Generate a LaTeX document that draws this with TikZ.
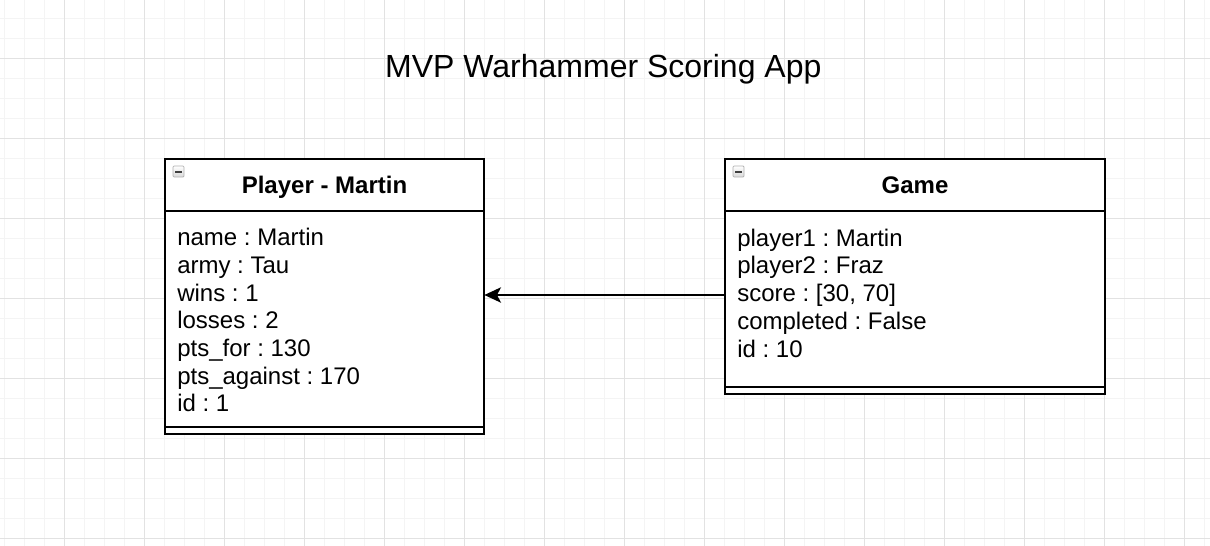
\documentclass[tikz,border=0pt]{standalone}
\usepackage{fontspec}
\setmainfont{Liberation Sans}
\usetikzlibrary{arrows.meta,calc}
\frenchspacing
\definecolor{gridminor}{HTML}{F4F4F4}
\definecolor{gridmajor}{HTML}{E2E2E2}
\tikzset{
  minorgrid/.style={draw=gridminor,line width=0.75pt},
  majorgrid/.style={draw=gridmajor,line width=0.75pt},
  umlbox/.style={draw=black,line width=1.5pt,fill=white,inner sep=0pt,outer sep=0pt,anchor=north west},
  divider/.style={draw=black,line width=1.5pt},
  headtext/.style={font=\bfseries\fontsize{18}{21}\selectfont,inner sep=0pt,anchor=base},
  attrtext/.style={font=\fontsize{18}{21}\selectfont,inner sep=0pt,anchor=base west},
  titletext/.style={font=\fontsize{24}{28}\selectfont,inner sep=0pt,anchor=base},
  iconbox/.style={draw=gray!60,top color=white,bottom color=gray!30,line width=0.6pt,rounded corners=0.8pt},
  iconbar/.style={draw=black!75,line width=1.6pt},
  assoc/.style={draw=black,line width=1.5pt,-{Stealth[length=12.5pt,width=11.5pt,inset=3pt]}}
}
\begin{document}
\begin{tikzpicture}[x=0.75pt,y=-0.75pt]
\useasboundingbox (0,0) rectangle (1210,546);
\fill[white] (0,0) rectangle (1210,546);
% grid
\foreach \i in {0,...,60} {\draw[minorgrid] ({4.3+20*\i},0) -- ({4.3+20*\i},546);}
\foreach \i in {0,...,27} {\draw[minorgrid] (0,{18.7+20*\i}) -- (1210,{18.7+20*\i});}
\foreach \i in {0,...,14} {\draw[majorgrid] ({64.3+80*\i},0) -- ({64.3+80*\i},546);}
\foreach \i in {0,...,6} {\draw[majorgrid] (0,{58.7+80*\i}) -- (1210,{58.7+80*\i});}
% title
\node[titletext] (title) at (603.3,77.7) {MVP Warhammer Scoring App};
% player box
\node[umlbox,minimum width=239.5pt,minimum height=206pt] (player) at (165,159.3) {};
\draw[divider] ($(player.north west)+(0,51.7)$) -- ($(player.north east)+(0,51.7)$);
\draw[divider] ($(player.south west)+(0,-7.3)$) -- ($(player.south east)+(0,-7.3)$);
\draw[iconbox] (173,166) rectangle (184,177);
\draw[iconbar] (175.3,172) -- (181.7,172);
\node[headtext] (playerhead) at (324.5,193.3) {Player - Martin};
\node[attrtext] (p1) at (177,245.7) {name : Martin};
\node[attrtext] (p2) at (177,273.4) {army : Tau};
\node[attrtext] (p3) at (177,301.1) {wins : 1};
\node[attrtext] (p4) at (177,328.8) {losses : 2};
\node[attrtext] (p5) at (177,356.5) {pts\_for : 130};
\node[attrtext] (p6) at (177,384.2) {pts\_against : 170};
\node[attrtext] (p7) at (177,411.9) {id : 1};
% game box
\node[umlbox,minimum width=285pt,minimum height=176.25pt] (game) at (725,159.3) {};
\draw[divider] ($(game.north west)+(0,51.7)$) -- ($(game.north east)+(0,51.7)$);
\draw[divider] ($(game.south west)+(0,-7.6)$) -- ($(game.south east)+(0,-7.6)$);
\draw[iconbox] (733,166) rectangle (744,177);
\draw[iconbar] (735.3,172) -- (741.7,172);
\node[headtext] (gamehead) at (915,193.3) {Game};
\node[attrtext] (g1) at (737,246) {player1 : Martin};
\node[attrtext] (g2) at (737,273.8) {player2 : Fraz};
\node[attrtext] (g3) at (737,301.6) {score : [30, 70]};
\node[attrtext] (g4) at (737,329.4) {completed : False};
\node[attrtext] (g5) at (737,357.2) {id : 10};
% association
\coordinate (arrowy) at (0,295);
\draw[assoc] (game.west |- arrowy) -- (player.east |- arrowy);
\end{tikzpicture}
\end{document}
